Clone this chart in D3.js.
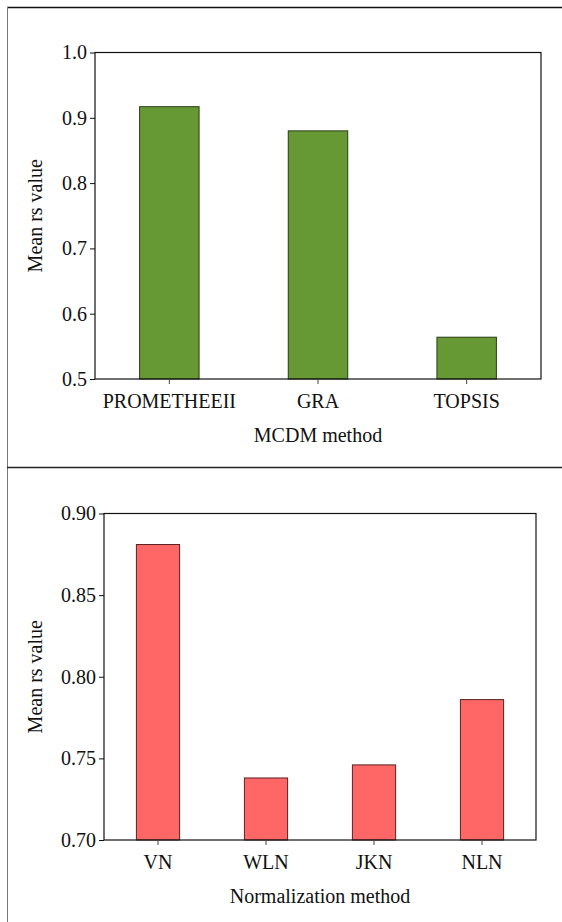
<html>
<head>
<script src="https://d3js.org/d3.v7.min.js"></script>
<style>
body { margin: 0; background: #fff; }
svg text { font-family: 'Liberation Serif', serif; fill: #111; }
</style>
</head>
<body>
<svg width="562" height="922" style="font-family:'Liberation Serif', serif"></svg>
<script>
// top chart: MCDM methods
var mcdmNames = ["PROMETHEEII", "GRA", "TOPSIS"];
var mcdmValues = [0.917, 0.880, 0.564];
var mcdmTicks = [0.5, 0.6, 0.7, 0.8, 0.9, 1.0];

// bottom chart: normalization methods
var normNames = ["VN", "WLN", "JKN", "NLN"];
var normValues = [0.881, 0.738, 0.746, 0.786];
var normTicks = [0.70, 0.75, 0.80, 0.85, 0.90];

var FONT = "Liberation Serif";
var svg = d3.select("svg");

// page frame lines
svg.append("line").attr("x1", 7).attr("x2", 562).attr("y1", 7.5).attr("y2", 7.5)
    .attr("stroke", "#111").attr("stroke-width", 1.5);
svg.append("line").attr("x1", 7.5).attr("x2", 7.5).attr("y1", 7).attr("y2", 922)
    .attr("stroke", "#777").attr("stroke-width", 1);
svg.append("line").attr("x1", 7).attr("x2", 562).attr("y1", 467.5).attr("y2", 467.5)
    .attr("stroke", "#222").attr("stroke-width", 1.5);

function drawChart(opt) {
    var xc = d3.scaleBand().domain(opt.names).range([opt.left, opt.right]);
    var y = d3.scaleLinear().domain(opt.domain).range([opt.bottom, opt.top]);

    var g = svg.append("g");

    g.selectAll("rect.bar").data(opt.values).enter().append("rect")
        .attr("class", "bar")
        .attr("x", function(d, i) { return xc(opt.names[i]) + xc.bandwidth() * 0.3; })
        .attr("width", xc.bandwidth() * 0.4)
        .attr("y", function(d) { return y(d); })
        .attr("height", function(d) { return opt.bottom - y(d); })
        .attr("fill", opt.fill)
        .attr("stroke", opt.stroke)
        .attr("stroke-width", 1);

    // plot frame
    g.append("rect")
        .attr("x", opt.left).attr("y", opt.top)
        .attr("width", opt.right - opt.left).attr("height", opt.bottom - opt.top)
        .attr("fill", "none").attr("stroke", "#111").attr("stroke-width", 1.2);

    var yaxis = d3.axisLeft(y).tickValues(opt.ticks).tickFormat(d3.format(opt.fmt))
        .tickSize(5).tickPadding(3);
    var ya = g.append("g").attr("transform", "translate(" + opt.left + ",0)").call(yaxis)
        .attr("font-family", FONT).attr("font-size", 20);
    ya.select(".domain").remove();
    ya.selectAll("text").attr("fill", "#111");
    ya.selectAll("line").attr("stroke", "#111");

    var xaxis = d3.axisBottom(xc).tickSize(5).tickPadding(10);
    var xa = g.append("g").attr("transform", "translate(0," + opt.bottom + ")").call(xaxis)
        .attr("font-family", FONT).attr("font-size", 20);
    xa.select(".domain").remove();
    xa.selectAll("text").attr("fill", "#111");
    xa.selectAll("line").attr("stroke", "#444");

    g.append("text").text(opt.xlabel)
        .attr("x", (opt.left + opt.right) / 2)
        .attr("y", opt.bottom + 63)
        .attr("text-anchor", "middle")
        .attr("font-family", FONT)
        .attr("font-size", 20);

    g.append("text").text("Mean rs value")
        .attr("text-anchor", "middle")
        .attr("transform", "translate(42," + (opt.top + opt.bottom) / 2 + ") rotate(-90)")
        .attr("font-family", FONT)
        .attr("font-size", 20);
}

drawChart({
    names: mcdmNames, values: mcdmValues, ticks: mcdmTicks, fmt: ".1f",
    domain: [0.5, 1.0], left: 95, right: 541, top: 52.5, bottom: 379,
    fill: "#669933", stroke: "#2a3a14", xlabel: "MCDM method"
});

drawChart({
    names: normNames, values: normValues, ticks: normTicks, fmt: ".2f",
    domain: [0.70, 0.90], left: 104, right: 536, top: 513.5, bottom: 840,
    fill: "#ff6666", stroke: "#5a2222", xlabel: "Normalization method"
});
</script>
</body>
</html>
